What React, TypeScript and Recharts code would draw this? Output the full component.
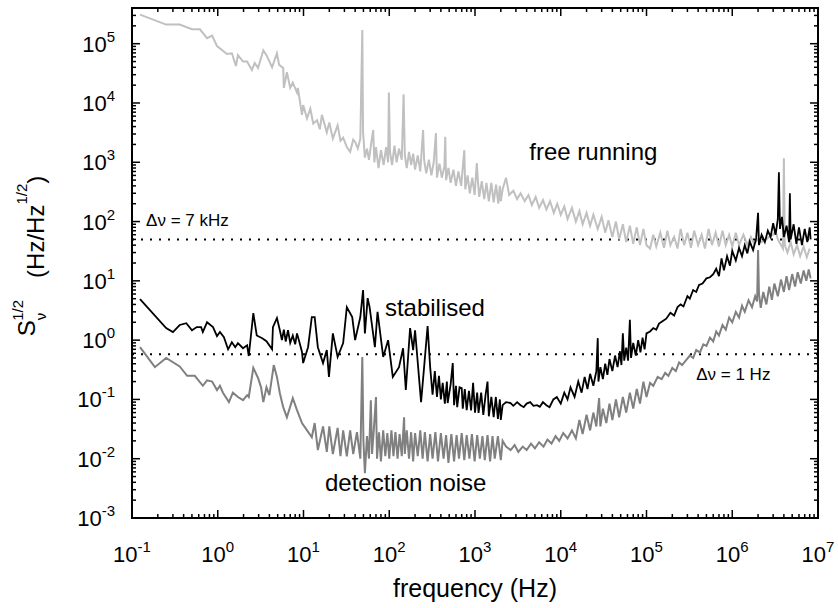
import React from "react";
import {
  LineChart,
  Line,
  XAxis,
  YAxis,
  ReferenceLine,
  ReferenceDot,
} from "recharts";

// frequency (Hz), S^1/2 (Hz/Hz^1/2)
const freeRunning: [number, number][] = [
  [0.124, 3.1e5], [0.25, 2.1e5], [0.36, 2.1e5], [0.5, 1.75e5], [0.62, 1.75e5], [0.75, 1.24e5],
  [0.86, 1.37e5], [0.98, 9.1e4], [1.28, 6.7e4], [1.46, 6.9e4], [1.63, 4.2e4], [1.72, 6.4e4],
  [1.97, 5e4], [2.2, 5e4], [2.5, 3.6e4], [2.7, 4.7e4], [2.95, 3.9e4], [3.4, 7.7e4], [3.7, 6.4e4],
  [4.3, 4e4], [4.9, 6.9e4], [5.2, 4.4e4], [5.8, 3.9e4], [5.9, 1.8e4], [6.4, 3.3e4], [7, 1.8e4],
  [7.5, 2.2e4], [8.4, 1.5e4], [8.6, 1.8e4], [9.6, 6.3e3], [9.9, 9.2e3], [11, 5.5e3], [12, 8e3],
  [13, 4.5e3], [14.4, 5.1e3], [15.5, 3.6e3], [16.4, 6.3e3], [18.7, 3.2e3], [20, 4.7e3], [22, 2.5e3],
  [25, 4.2e3], [27, 2.3e3], [29, 2.6e3], [32, 1.8e3], [35, 1.5e3], [38, 2.4e3], [40, 2.2e3],
  [43, 1.7e3], [46, 2.5e3], [48.5, 1.7e5], [49.5, 3.2e3], [52, 1.2e3], [55, 1.7e3], [58, 1.1e3],
  [61, 1.9e3], [65, 3.5e3], [67, 1.0e3], [70, 1.8e3], [75, 8e2], [80, 1.6e3], [86, 9e2], [92, 1.8e3],
  [97, 1.0e3], [99, 1.5e4], [102, 1.5e3], [108, 9e2], [115, 1.9e3], [122, 1.0e3], [130, 1.7e3],
  [140, 1.1e3], [147, 1.4e4], [152, 1.3e3], [160, 8e2], [170, 1.5e3], [180, 9e2], [190, 1.4e3],
  [200, 7.5e2], [215, 1.3e3], [230, 7e2], [248, 3.5e3], [255, 1.1e3], [270, 6.5e2], [290, 1.1e3],
  [310, 6e2], [330, 1.0e3], [350, 3.1e3], [360, 5.5e2], [385, 9.5e2], [410, 5.5e2], [440, 8.5e2],
  [450, 2.7e3], [460, 5e2], [490, 8e2], [520, 4.5e2], [560, 7.5e2], [600, 4e2], [640, 7e2],
  [690, 4e2], [750, 1.6e3], [770, 3.5e2], [820, 6e2], [870, 3e2], [930, 5.5e2], [990, 2.8e2],
  [1050, 9.7e2], [1080, 5e2], [1120, 2.6e2], [1200, 4.8e2], [1280, 2.4e2], [1360, 4.5e2],
  [1450, 2.2e2], [1550, 4.5e2], [1650, 2.1e2], [1760, 4.2e2], [1870, 2e2], [1950, 4e2], [2000, 2.2e2],
  [2100, 3.5e2], [2300, 5.5e2], [2500, 2.8e2], [2800, 3.3e2], [3100, 2.4e2], [3400, 3e2],
  [3800, 2.2e2], [4200, 2.8e2], [4600, 1.9e2], [5100, 2.6e2], [5600, 1.7e2], [6200, 2.3e2],
  [6800, 1.6e2], [7500, 2.2e2], [8300, 1.4e2], [9100, 2e2], [1e4, 1.3e2], [1.1e4, 1.8e2],
  [1.2e4, 1.1e2], [1.35e4, 1.7e2], [1.5e4, 1.0e2], [1.65e4, 1.5e2], [1.8e4, 9e1], [2e4, 1.4e2],
  [2.2e4, 8.5e1], [2.4e4, 1.3e2], [2.7e4, 7.5e1], [3e4, 1.2e2], [3.3e4, 6.5e1], [3.6e4, 1.05e2],
  [4e4, 5.5e1], [4.4e4, 1e2], [4.8e4, 5e1], [5.3e4, 9e1], [5.8e4, 4.5e1], [6.4e4, 8.5e1],
  [7e4, 4.2e1], [7.7e4, 8e1], [8.4e4, 4e1], [9.2e4, 7.5e1], [1e5, 4e1], [1.1e5, 3.5e1],
  [1.2e5, 6e1], [1.3e5, 3.8e1], [1.45e5, 6.5e1], [1.6e5, 3.6e1], [1.75e5, 7e1], [1.9e5, 4e1],
  [2.1e5, 5.5e1], [2.3e5, 3.5e1], [2.5e5, 7.5e1], [2.75e5, 4e1], [3e5, 6.5e1], [3.3e5, 3.6e1],
  [3.6e5, 7e1], [4e5, 4e1], [4.4e5, 6e1], [4.8e5, 3.5e1], [5.3e5, 7.5e1], [5.8e5, 4e1],
  [6.4e5, 6.5e1], [7e5, 3.8e1], [7.7e5, 7e1], [8.4e5, 4e1], [9.2e5, 6e1], [1e6, 3.8e1],
  [1.1e6, 6.5e1], [1.2e6, 4e1], [1.35e6, 6e1], [1.5e6, 4e1], [1.65e6, 5.5e1], [1.8e6, 4.2e1],
  [2e6, 5e1], [2.2e6, 4.5e1], [2.4e6, 4.8e1], [2.7e6, 5.5e1], [3e6, 6e1], [3.2e6, 7e1],
  [3.4e6, 5e1], [3.6e6, 4.3e1], [3.9e6, 3.5e1], [4e6, 1.17e3], [4.1e6, 4e1], [4.4e6, 3e1],
  [4.8e6, 4.5e1], [5.2e6, 2.8e1], [5.7e6, 4e1], [6.2e6, 2.6e1], [6.8e6, 3.8e1], [7.4e6, 2.5e1],
  [8e6, 3.5e1],
];

const stabilised: [number, number][] = [
  [0.124, 4.9], [0.25, 1.6], [0.3, 1.37], [0.36, 1.8], [0.43, 1.93], [0.5, 1.47], [0.57, 1.66],
  [0.64, 1.66], [0.67, 1.37], [0.75, 2.0], [0.88, 1.66], [0.98, 1.17], [1.06, 1.37], [1.18, 1.12],
  [1.32, 0.7], [1.46, 0.92], [1.6, 0.76], [1.72, 0.89], [1.97, 0.73], [2.2, 0.82], [2.3, 0.54],
  [2.6, 2.85], [2.85, 1.2], [3.3, 1.08], [3.7, 0.96], [4.3, 0.7], [4.4, 1.66], [4.9, 2.35],
  [5.3, 1.47], [5.6, 1.0], [5.9, 1.5], [6.2, 0.95], [6.6, 1.47], [7.0, 0.9], [7.5, 1.2], [8.0, 0.85],
  [8.4, 1.3], [9.0, 0.9], [9.6, 0.63], [9.9, 0.41], [11.3, 0.76], [12.5, 2.45], [13.5, 2.45],
  [14.7, 0.76], [16.9, 0.41], [18.7, 0.68], [19.8, 0.24], [22, 1.3], [25, 0.52], [29, 0.89],
  [32, 3.6], [37, 2.45], [40, 1.0], [46, 2.45], [49.5, 7.0], [52, 1.3], [56, 5.1], [59, 3.6],
  [68, 0.76], [73, 3.0], [85, 0.52], [97, 1.0], [110, 0.24], [130, 0.35], [145, 0.73], [156, 0.144],
  [175, 1.6], [190, 0.68], [200, 1.47], [235, 0.09], [255, 0.35], [280, 1.72], [300, 0.35],
  [320, 0.12], [340, 0.3], [360, 0.11], [380, 0.25], [400, 0.1], [420, 0.19], [445, 0.085],
  [470, 0.2], [480, 0.087], [520, 0.18], [550, 0.41], [570, 0.08], [600, 0.17], [620, 0.074],
  [660, 0.16], [700, 0.155], [720, 0.07], [760, 0.15], [800, 0.066], [850, 0.14], [900, 0.065],
  [950, 0.19], [1000, 0.06], [1060, 0.13], [1100, 0.059], [1180, 0.13], [1250, 0.055], [1330, 0.12],
  [1400, 0.2], [1450, 0.052], [1550, 0.11], [1650, 0.05], [1750, 0.11], [1850, 0.047], [1950, 0.1],
  [2000, 0.045], [2100, 0.08], [2300, 0.09], [2600, 0.087], [2800, 0.078], [3100, 0.09],
  [3400, 0.08], [3700, 0.074], [4000, 0.085], [4400, 0.09], [4800, 0.078], [5300, 0.08],
  [5700, 0.075], [6200, 0.09], [6800, 0.08], [7400, 0.074], [8200, 0.1], [9000, 0.11],
  [1e4, 0.085], [1.1e4, 0.13], [1.2e4, 0.1], [1.3e4, 0.16], [1.45e4, 0.11], [1.6e4, 0.2],
  [1.75e4, 0.13], [1.9e4, 0.24], [2.05e4, 0.15], [2.2e4, 0.27], [2.4e4, 0.17], [2.6e4, 0.3],
  [2.7e4, 1.08], [2.75e4, 0.2], [2.9e4, 0.35], [3.1e4, 0.22], [3.3e4, 0.4], [3.5e4, 0.26],
  [3.7e4, 0.48], [4e4, 0.3], [4.3e4, 0.55], [4.6e4, 0.35], [4.9e4, 0.65], [5.1e4, 0.38],
  [5.3e4, 1.3], [5.5e4, 0.45], [5.8e4, 0.75], [6.1e4, 0.45], [6.4e4, 2.2], [6.6e4, 0.5],
  [7e4, 0.9], [7.5e4, 0.55], [8e4, 1.0], [8.5e4, 0.62], [9e4, 1.1], [9.5e4, 0.7], [1e5, 1.3],
  [1.1e5, 1.4], [1.2e5, 1.6], [1.3e5, 1.5], [1.4e5, 1.9], [1.55e5, 2.1], [1.7e5, 2.3], [1.9e5, 2.9],
  [2.1e5, 2.6], [2.3e5, 3.6], [2.5e5, 4.0], [2.7e5, 3.7], [3e5, 5.5], [3.2e5, 5.0], [3.5e5, 7.0],
  [3.8e5, 6.5], [4.1e5, 8.5], [4.5e5, 9], [5e5, 11], [5.5e5, 11.5], [6e5, 13], [6.5e5, 16],
  [7e5, 12], [7.5e5, 24], [8e5, 15], [8.7e5, 26], [9.4e5, 18], [1e6, 32], [1.1e6, 22], [1.2e6, 36],
  [1.3e6, 26], [1.4e6, 40], [1.5e6, 29], [1.6e6, 46], [1.75e6, 33], [1.9e6, 52], [2e6, 140],
  [2.05e6, 40], [2.2e6, 60], [2.4e6, 45], [2.6e6, 70], [2.8e6, 55], [3e6, 94], [3.2e6, 60],
  [3.4e6, 110], [3.5e6, 680], [3.6e6, 75], [3.8e6, 120], [4e6, 55], [4.3e6, 85], [4.6e6, 45],
  [4.7e6, 300], [4.8e6, 50], [5.2e6, 90], [5.6e6, 42], [6e6, 80], [6.5e6, 40], [7e6, 75],
  [7.5e6, 45], [8e6, 80], [8.2e6, 50],
];

const detectionNoise: [number, number][] = [
  [0.124, 0.76], [0.185, 0.35], [0.25, 0.5], [0.36, 0.36], [0.44, 0.25], [0.54, 0.25], [0.67, 0.17],
  [0.75, 0.21], [0.86, 0.2], [0.98, 0.144], [1.06, 0.17], [1.15, 0.13], [1.35, 0.09], [1.5, 0.13],
  [1.72, 0.11], [1.97, 0.097], [2.2, 0.118], [2.3, 0.11], [2.6, 0.34], [2.95, 0.23], [3.2, 0.16],
  [3.4, 0.09], [3.7, 0.16], [4.0, 0.118], [4.5, 0.38], [4.9, 0.24], [5.3, 0.127], [5.8, 0.074],
  [6.4, 0.05], [7.5, 0.105], [8.4, 0.066], [9.6, 0.04], [11, 0.03], [12.5, 0.023], [13.5, 0.04],
  [14.7, 0.014], [16.9, 0.035], [18.7, 0.013], [20, 0.035], [22, 0.012], [25, 0.033], [27, 0.011],
  [29, 0.03], [32, 0.011], [35, 0.03], [38, 0.012], [42, 0.028], [46, 0.01], [48.5, 0.52],
  [50, 0.02], [52, 0.0057], [55, 0.024], [58, 0.01], [61, 0.097], [63, 0.012], [66, 0.03],
  [70, 0.11], [72, 0.01], [76, 0.028], [80, 0.009], [85, 0.03], [90, 0.011], [95, 0.027],
  [100, 0.01], [106, 0.03], [112, 0.011], [118, 0.028], [125, 0.01], [132, 0.026], [140, 0.011],
  [149, 0.05], [152, 0.012], [160, 0.03], [170, 0.01], [180, 0.028], [190, 0.009], [200, 0.027],
  [215, 0.011], [230, 0.03], [245, 0.01], [260, 0.028], [280, 0.009], [300, 0.026], [320, 0.01],
  [345, 0.028], [370, 0.009], [400, 0.027], [430, 0.01], [460, 0.025], [490, 0.0085], [530, 0.026],
  [570, 0.009], [610, 0.025], [650, 0.01], [700, 0.027], [750, 0.0095], [800, 0.025], [860, 0.01],
  [920, 0.026], [990, 0.009], [1060, 0.025], [1140, 0.01], [1220, 0.024], [1300, 0.0095],
  [1400, 0.025], [1500, 0.009], [1600, 0.024], [1700, 0.01], [1850, 0.024], [2000, 0.0095],
  [2100, 0.02], [2300, 0.016], [2600, 0.014], [2900, 0.017], [3200, 0.013], [3600, 0.016],
  [4000, 0.014], [4500, 0.018], [5000, 0.015], [5600, 0.019], [6300, 0.016], [7000, 0.021],
  [7800, 0.018], [8700, 0.024], [9600, 0.02], [1.07e4, 0.027], [1.2e4, 0.022], [1.35e4, 0.03],
  [1.5e4, 0.022], [1.65e4, 0.045], [1.8e4, 0.026], [2e4, 0.055], [2.2e4, 0.03], [2.4e4, 0.06],
  [2.6e4, 0.035], [2.8e4, 0.105], [2.9e4, 0.035], [3.1e4, 0.07], [3.4e4, 0.04], [3.7e4, 0.085],
  [4e4, 0.045], [4.4e4, 0.1], [4.8e4, 0.05], [5.3e4, 0.11], [5.8e4, 0.06], [6.4e4, 0.13],
  [7e4, 0.07], [7.7e4, 0.15], [8.4e4, 0.085], [9.2e4, 0.2], [1e5, 0.11], [1.1e5, 0.19],
  [1.2e5, 0.17], [1.35e5, 0.24], [1.5e5, 0.22], [1.65e5, 0.28], [1.8e5, 0.25], [2e5, 0.34],
  [2.2e5, 0.3], [2.4e5, 0.42], [2.6e5, 0.38], [2.9e5, 0.46], [3.2e5, 0.55], [3.5e5, 0.5],
  [3.8e5, 0.68], [4.2e5, 0.62], [4.6e5, 0.85], [5e5, 0.8], [5.5e5, 1.1], [6e5, 0.95], [6.5e5, 1.4],
  [7e5, 1.2], [7.7e5, 1.8], [8.4e5, 1.5], [9.2e5, 2.4], [1e6, 2.0], [1.1e6, 3.0], [1.2e6, 2.4],
  [1.3e6, 3.8], [1.4e6, 3.0], [1.55e6, 4.7], [1.7e6, 3.6], [1.85e6, 5.5], [1.95e6, 4.5],
  [2e6, 33], [2.05e6, 6], [2.15e6, 3.5], [2.3e6, 6.5], [2.5e6, 4], [2.7e6, 8], [2.9e6, 4.8],
  [3.1e6, 9], [3.4e6, 5.5], [3.7e6, 10.5], [4e6, 6.5], [4.3e6, 12], [4.6e6, 7], [5e6, 13],
  [5.4e6, 8], [5.8e6, 14], [6.3e6, 9], [6.8e6, 15], [7.3e6, 10], [7.8e6, 15.5], [8.2e6, 11],
];

const xMajorTicks = [0.1, 1, 10, 100, 1e3, 1e4, 1e5, 1e6, 1e7];
const yMajorTicks = [1e-3, 1e-2, 1e-1, 1, 10, 100, 1e3, 1e4, 1e5];
const minorSteps = [2, 3, 4, 5, 6, 7, 8, 9];
const xDomain: [number, number] = [0.1, 1e7];
const yDomain: [number, number] = [1e-3, 4e5];

// dotted linewidth levels: Δν = 7 kHz and Δν = 1 Hz
const levelSevenKHz = 50;
const levelOneHz = 0.58;

const FONT = "Liberation Sans, Arial, sans-serif";
const W = 838;
const H = 608;
const chartMargin = { top: 7, right: 19, bottom: 0, left: 0 };
const X_AXIS_H = 90;
const TOP_AXIS_H = 1;
const Y_AXIS_W = 132;
const RIGHT_AXIS_W = 1;

// plot box that recharts lays out from the margins and axis sizes above
const plot = {
  left: chartMargin.left + Y_AXIS_W,
  right: W - chartMargin.right - RIGHT_AXIS_W,
  top: chartMargin.top + TOP_AXIS_H,
  bottom: H - chartMargin.bottom - X_AXIS_H,
};

const minorsFor = (majors: number[], max: number) =>
  majors.flatMap((m) => minorSteps.map((s) => s * m)).filter((v) => v <= max);

const xTicks = [...xMajorTicks, ...minorsFor(xMajorTicks, xDomain[1])];
const yTicks = [...yMajorTicks, ...minorsFor(yMajorTicks, yDomain[1])];

const rows = (pts: [number, number][]) => pts.map(([f, v]) => ({ f, v }));
const freeRows = rows(freeRunning);
const stabRows = rows(stabilised);
const detRows = rows(detectionNoise);

const exponent = (v: number) => String(Math.round(Math.log10(v)));

const bottomTick = (p: any) =>
  xMajorTicks.includes(p.payload.value) ? (
    <text x={p.x} y={p.y + 44} textAnchor="middle" fontSize={22} fontFamily={FONT} fill="#000">
      10
      <tspan dy={-10} fontSize={15}>{exponent(p.payload.value)}</tspan>
    </text>
  ) : (
    <g />
  );

const leftTick = (p: any) =>
  yMajorTicks.includes(p.payload.value) ? (
    <text x={p.x - 17} y={p.y + 8} textAnchor="end" fontSize={22} fontFamily={FONT} fill="#000">
      10
      <tspan dy={-10} fontSize={15}>{exponent(p.payload.value)}</tspan>
    </text>
  ) : (
    <g />
  );

// log position inside the plot box, same mapping as the axes' log scale
const logPos = (v: number, [d0, d1]: [number, number], a: number, b: number) =>
  a + ((Math.log10(v) - Math.log10(d0)) / (Math.log10(d1) - Math.log10(d0))) * (b - a);

// frame with inward ticks on all four sides
function Frame() {
  return (
    <svg width={W} height={H} style={{ position: "absolute", left: 0, top: 0, pointerEvents: "none" }}>
      <rect x={plot.left} y={plot.top} width={plot.right - plot.left} height={plot.bottom - plot.top}
        fill="none" stroke="#000" strokeWidth={2} />
      {xTicks.map((t) => {
        const x = logPos(t, xDomain, plot.left, plot.right);
        const len = xMajorTicks.includes(t) ? 8 : 4;
        return (
          <g key={`x${t}`}>
            <line x1={x} x2={x} y1={plot.bottom} y2={plot.bottom - len} stroke="#000" strokeWidth={1.5} />
            <line x1={x} x2={x} y1={plot.top} y2={plot.top + len} stroke="#000" strokeWidth={1.5} />
          </g>
        );
      })}
      {yTicks.map((t) => {
        const y = logPos(t, yDomain, plot.bottom, plot.top);
        const len = yMajorTicks.includes(t) ? 8 : 4;
        return (
          <g key={`y${t}`}>
            <line x1={plot.left} x2={plot.left + len} y1={y} y2={y} stroke="#000" strokeWidth={1.5} />
            <line x1={plot.right} x2={plot.right - len} y1={y} y2={y} stroke="#000" strokeWidth={1.5} />
          </g>
        );
      })}
    </svg>
  );
}

// text placed at a data point through the chart scales
const note = (text: string, anchor: "start" | "middle", size: number) => (p: any) => {
  const vb = p.viewBox || {};
  const cx = vb.x + (vb.width || 0) / 2;
  const cy = vb.y + (vb.height || 0) / 2;
  return (
    <text x={cx} y={cy} textAnchor={anchor} fontSize={size} fontFamily={FONT} fill="#000">
      {text}
    </text>
  );
};
const freeNote = note("free running", "middle", 24);
const stabNote = note("stabilised", "start", 24);
const detNote = note("detection noise", "start", 24);
const sevenNote = note("Δν = 7 kHz", "start", 17);
const oneNote = note("Δν = 1 Hz", "start", 17);

const yTitle = (p: any) => {
  const vb = p.viewBox || { x: 0, y: 8, width: 132, height: 510 };
  const x = vb.x + 44;
  const y = vb.y + 248;
  return (
    <text x={x} y={y} transform={`rotate(-90, ${x}, ${y})`} textAnchor="middle"
      fontSize={24} fontFamily={FONT} fill="#000">
      <tspan dy={-9}>S</tspan>
      <tspan dy={11} fontSize={15}>ν</tspan>
      <tspan dx={-8} dy={-23} fontSize={15}>1/2</tspan>
      <tspan dx={22} dy={21}>(Hz/Hz</tspan>
      <tspan dy={-17} fontSize={15}>1/2</tspan>
      <tspan dy={17}>)</tspan>
    </text>
  );
};

const xTitle = (p: any) => {
  const vb = p.viewBox || { x: 132, y: 518, width: 686, height: 90 };
  return (
    <text x={vb.x + vb.width / 2} y={vb.y + 79} textAnchor="middle"
      fontSize={25} fontFamily={FONT} fill="#000">
      frequency (Hz)
    </text>
  );
};

export default function App() {
  return (
    <div style={{ position: "absolute", left: 0, top: 0, width: W, height: H }}>
      <LineChart width={W} height={H} margin={chartMargin}>
        <XAxis xAxisId="bottom" dataKey="f" type="number" scale="log" domain={xDomain}
          ticks={xTicks} interval={0} height={X_AXIS_H} tickSize={0} tickMargin={0}
          tickLine={false} axisLine={false} tick={bottomTick} label={xTitle} />
        <XAxis xAxisId="top" orientation="top" dataKey="f" type="number" scale="log" domain={xDomain}
          height={TOP_AXIS_H} tickLine={false} axisLine={false} tick={false} />
        <YAxis yAxisId="left" type="number" scale="log" domain={yDomain}
          ticks={yTicks} interval={0} width={Y_AXIS_W} tickSize={0} tickMargin={0}
          tickLine={false} axisLine={false} tick={leftTick} label={yTitle} />
        <YAxis yAxisId="right" orientation="right" type="number" scale="log" domain={yDomain}
          width={RIGHT_AXIS_W} tickLine={false} axisLine={false} tick={false} />

        <ReferenceLine xAxisId="bottom" yAxisId="left" y={levelSevenKHz}
          stroke="#000" strokeWidth={2} strokeDasharray="2 7" />
        <ReferenceLine xAxisId="bottom" yAxisId="left" y={levelOneHz}
          stroke="#000" strokeWidth={2} strokeDasharray="2 7" />

        <Line xAxisId="top" yAxisId="right" data={freeRows} dataKey="v"
          stroke="#c0c0c0" strokeWidth={2} dot={false} isAnimationActive={false} />
        <Line xAxisId="bottom" yAxisId="left" data={detRows} dataKey="v"
          stroke="#808080" strokeWidth={2} dot={false} isAnimationActive={false} />
        <Line xAxisId="bottom" yAxisId="left" data={stabRows} dataKey="v"
          stroke="#000" strokeWidth={1.8} dot={false} isAnimationActive={false} />

        <ReferenceDot xAxisId="bottom" yAxisId="left" x={2.4e4} y={1080} r={0.5} fill="none" stroke="none" label={freeNote} />
        <ReferenceDot xAxisId="bottom" yAxisId="left" x={89} y={2.54} r={0.5} fill="none" stroke="none" label={stabNote} />
        <ReferenceDot xAxisId="bottom" yAxisId="left" x={17.8} y={0.00284} r={0.5} fill="none" stroke="none" label={detNote} />
        <ReferenceDot xAxisId="bottom" yAxisId="left" x={0.146} y={83.6} r={0.5} fill="none" stroke="none" label={sevenNote} />
        <ReferenceDot xAxisId="bottom" yAxisId="left" x={3.8e5} y={0.211} r={0.5} fill="none" stroke="none" label={oneNote} />
      </LineChart>
      <Frame />
    </div>
  );
}
